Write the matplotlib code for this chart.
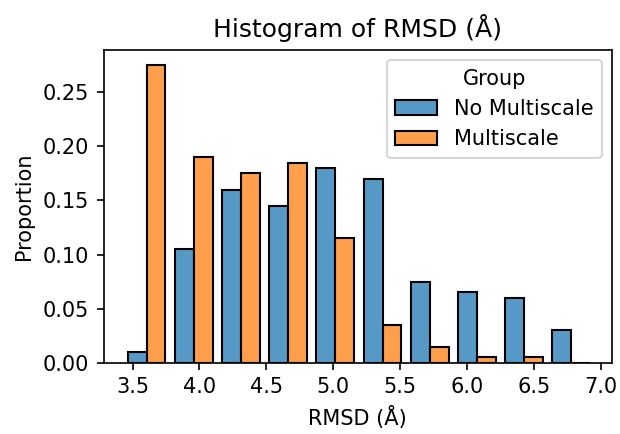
import numpy as np
import matplotlib
matplotlib.use("Agg")
import matplotlib.pyplot as plt
from matplotlib.colors import to_rgba

# bin edges of the RMSD histogram (Å)
bin_edges = [3.428, 3.781, 4.134, 4.487, 4.840, 5.193, 5.546, 5.899, 6.252, 6.605, 6.958]

groups = ["No Multiscale", "Multiscale"]
prop_no_multiscale = [0.010, 0.105, 0.160, 0.145, 0.180, 0.170, 0.075, 0.065, 0.060, 0.030]
prop_multiscale = [0.275, 0.190, 0.175, 0.185, 0.115, 0.035, 0.015, 0.005, 0.005, 0.000]

colors = ["#1f77b4", "#ff7f0e"]
shrink = 0.8

fig, ax = plt.subplots(figsize=(620 / 150, 434 / 150), dpi=150)
fig.subplots_adjust(left=0.167, right=0.987, top=0.885, bottom=0.164)

edges = np.array(bin_edges)
widths = np.diff(edges)
bar_w = widths * shrink / 2
starts = edges[:-1] + widths * (1 - shrink) / 2

for i, (name, vals) in enumerate(zip(groups, [prop_no_multiscale, prop_multiscale])):
    ax.bar(starts + i * bar_w, vals, width=bar_w, align="edge",
           facecolor=to_rgba(colors[i], 0.75), edgecolor="black",
           linewidth=1.0, label=name)

ax.set_xlim(3.283, 7.085)
ax.set_ylim(0, 0.289)
ax.set_xticks([3.5, 4.0, 4.5, 5.0, 5.5, 6.0, 6.5, 7.0])
ax.set_yticks([0.0, 0.05, 0.10, 0.15, 0.20, 0.25])
ax.yaxis.set_major_formatter(matplotlib.ticker.FormatStrFormatter("%.2f"))

ax.set_xlabel("RMSD (Å)")
ax.set_ylabel("Proportion")
ax.set_title("Histogram of RMSD (Å)")
ax.legend(title="Group", loc="upper right")

fig.savefig("out.png", dpi=150)
